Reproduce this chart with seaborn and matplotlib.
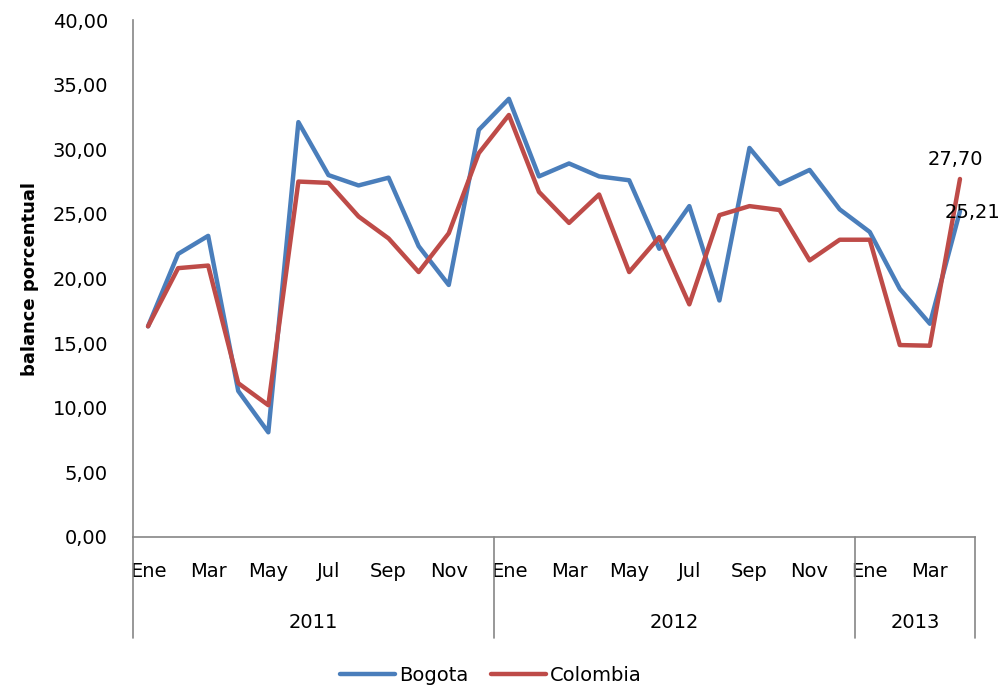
import numpy as np
import pandas as pd
import seaborn as sns
import matplotlib.pyplot as plt
from matplotlib.ticker import FuncFormatter
import matplotlib.transforms as mtransforms

# data (Ene 2011 .. Abr 2013)
months = ["Ene", "Feb", "Mar", "Abr", "May", "Jun", "Jul", "Ago", "Sep", "Oct", "Nov", "Dic"]
years = ["2011", "2012", "2013"]
n_per_year = [12, 12, 4]

bogota = [16.3, 21.9, 23.3, 11.3, 8.1, 32.1, 28.0, 27.2, 27.8, 22.5, 19.5, 31.5,
          33.9, 27.9, 28.9, 27.9, 27.6, 22.3, 25.6, 18.3, 30.1, 27.3, 28.4, 25.35,
          23.6, 19.2, 16.5, 25.21]
colombia = [16.3, 20.8, 21.0, 11.9, 10.2, 27.5, 27.4, 24.8, 23.1, 20.5, 23.5, 29.7,
            32.65, 26.7, 24.3, 26.5, 20.5, 23.2, 18.0, 24.9, 25.6, 25.3, 21.4, 23.0,
            23.0, 14.85, 14.8, 27.70]

series_names = ["Bogota", "Colombia"]
colors = ["#4A7EBB", "#BE4B48"]

idx = np.arange(len(bogota))
df = pd.DataFrame({"Bogota": bogota, "Colombia": colombia}, index=idx)
df_long = df.reset_index().melt(id_vars="index", var_name="serie", value_name="valor")

sns.set_style("white")
plt.rcParams["font.family"] = ["DejaVu Sans"]
plt.rcParams["text.color"] = "black"
plt.rcParams["xtick.color"] = "black"
plt.rcParams["ytick.color"] = "black"
plt.rcParams["axes.labelcolor"] = "black"

fig = plt.figure(figsize=(10.02, 6.89), dpi=100)
ax = fig.add_axes([133 / 1002, (689 - 537) / 689, (975 - 133) / 1002, (537 - 20) / 689])

sns.lineplot(data=df_long, x="index", y="valor", hue="serie", palette=colors,
             linewidth=3.2, ax=ax, legend=False)

ax.set_xlim(-0.5, len(idx) - 0.5)
ax.set_ylim(0, 40)
ax.set_yticks(np.arange(0, 41, 5))
ax.yaxis.set_major_formatter(FuncFormatter(lambda v, p: f"{v:.2f}".replace(".", ",")))
ax.tick_params(axis="y", length=0, labelsize=14, pad=18)
ax.set_ylabel("balance porcentual", fontsize=13, fontweight="bold", labelpad=10)
ax.set_xlabel("")

# month labels every other month
month_labels = []
for ny in n_per_year:
    month_labels += months[:ny]
ax.set_xticks(idx[::2])
ax.set_xticklabels(month_labels[::2], fontsize=14)
ax.tick_params(axis="x", length=0, pad=18)

for s in ["top", "right"]:
    ax.spines[s].set_visible(False)
for s in ["left", "bottom"]:
    ax.spines[s].set_color("#868686")
    ax.spines[s].set_linewidth(1.2)

# year groups and separators
trans = mtransforms.blended_transform_factory(ax.transData, ax.transAxes)
start = 0
bounds = [-0.5]
for y, ny in zip(years, n_per_year):
    ax.text(start + (ny - 1) / 2, -0.165, y, transform=trans, ha="center", va="center",
            fontsize=14)
    start += ny
    bounds.append(start - 0.5)
for b in bounds:
    ax.plot([b, b], [0, -0.196], transform=trans, color="#868686", lw=1.2, clip_on=False)

# data labels on the last point
ax.annotate(f"{colombia[-1]:.2f}".replace(".", ","), (idx[-1], colombia[-1]),
            xytext=(-3, 14), textcoords="offset points", ha="center", va="center",
            fontsize=14)
ax.annotate(f"{bogota[-1]:.2f}".replace(".", ","), (idx[-1], bogota[-1]),
            xytext=(9, -1), textcoords="offset points", ha="center", va="center",
            fontsize=14)

handles = [plt.Line2D([], [], color=c, lw=3.2) for c in colors]
fig.legend(handles, series_names, loc="center", bbox_to_anchor=(0.49, 0.02), ncol=2,
           frameon=False, fontsize=14, handlelength=2.8, handletextpad=0.2,
           columnspacing=1.2)

fig.savefig("out.png", dpi=100)
